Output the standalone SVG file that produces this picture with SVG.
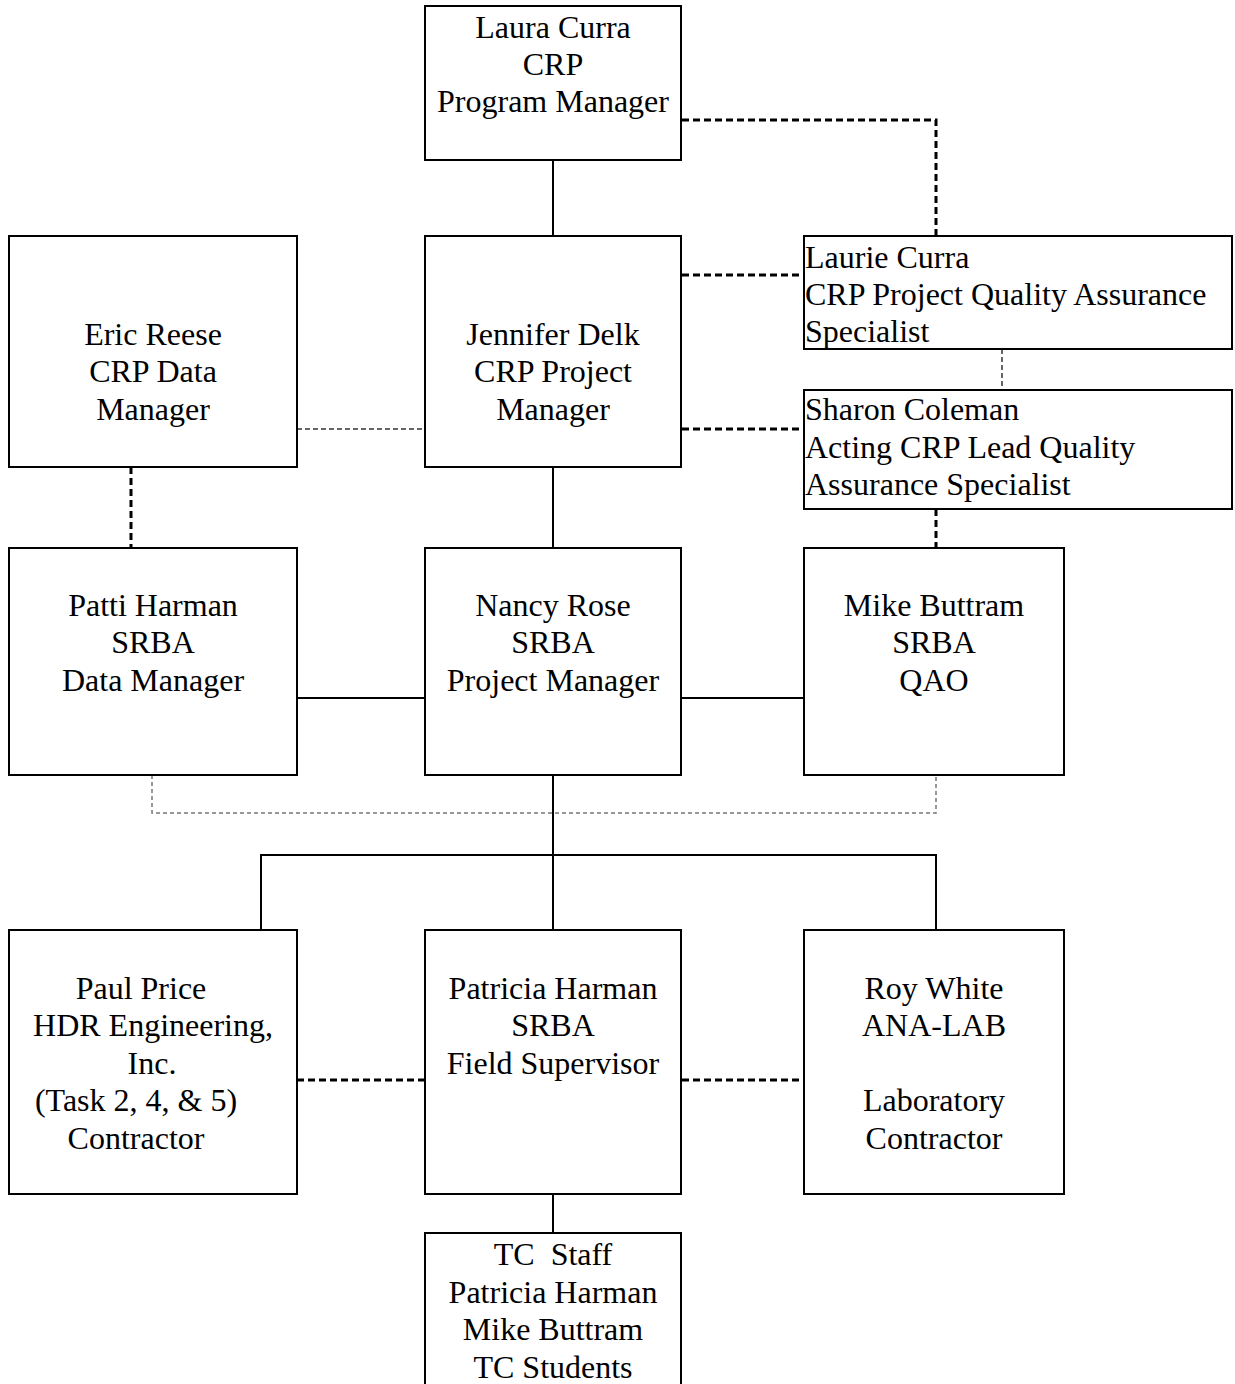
<svg xmlns="http://www.w3.org/2000/svg" width="1235" height="1384" viewBox="0 0 1235 1384">
<style>
.box{fill:#fff;stroke:#000;stroke-width:2}
text{font-family:"Liberation Serif","Times New Roman",serif;font-size:32px;fill:#000}
.c{text-anchor:middle}
.solid{stroke:#000;stroke-width:2;fill:none}
.thick{stroke:#000;stroke-width:3;stroke-dasharray:7 4;fill:none}
.thin{stroke:#333;stroke-width:1.5;stroke-dasharray:5 3;fill:none}
.gray{stroke:#777;stroke-width:1.5;stroke-dasharray:4 3;fill:none}
</style>
<rect width="1235" height="1384" fill="#fff"/>
<g id="connectors">
<line class="solid" x1="553" y1="160" x2="553" y2="236"/>
<polyline class="thick" points="682,120 936,120 936,236"/>
<line class="thick" x1="682" y1="275" x2="804" y2="275"/>
<line class="thick" x1="682" y1="429" x2="804" y2="429"/>
<line class="thin" x1="297" y1="429" x2="425" y2="429"/>
<line class="thin" x1="1002" y1="349" x2="1002" y2="390"/>
<line class="thick" x1="131" y1="467" x2="131" y2="548"/>
<line class="thick" x1="936" y1="509" x2="936" y2="548"/>
<line class="solid" x1="553" y1="467" x2="553" y2="548"/>
<line class="solid" x1="297" y1="698" x2="425" y2="698"/>
<line class="solid" x1="682" y1="698" x2="804" y2="698"/>
<line class="solid" x1="553" y1="775" x2="553" y2="855"/>
<polyline class="solid" points="261,930 261,855 936,855 936,930"/>
<line class="solid" x1="553" y1="855" x2="553" y2="930"/>
<polyline class="gray" points="152,775 152,813 936,813 936,775"/>
<line class="thick" x1="297" y1="1080" x2="425" y2="1080"/>
<line class="thick" x1="682" y1="1080" x2="804" y2="1080"/>
<line class="solid" x1="553" y1="1194" x2="553" y2="1233"/>
</g>
<g id="laura-curra">
<rect class="box" x="425" y="6" width="256" height="154"/>
<text class="c" x="553" y="38">Laura Curra</text>
<text class="c" x="553" y="75">CRP</text>
<text class="c" x="553" y="112">Program Manager</text>
</g>
<g id="eric-reese">
<rect class="box" x="9" y="236" width="288" height="231"/>
<text class="c" x="153" y="345">Eric Reese</text>
<text class="c" x="153" y="382">CRP Data</text>
<text class="c" x="153" y="420">Manager</text>
</g>
<g id="jennifer-delk">
<rect class="box" x="425" y="236" width="256" height="231"/>
<text class="c" x="553" y="345">Jennifer Delk</text>
<text class="c" x="553" y="382">CRP Project</text>
<text class="c" x="553" y="420">Manager</text>
</g>
<g id="laurie-curra">
<rect class="box" x="804" y="236" width="428" height="113"/>
<text x="805" y="268">Laurie Curra</text>
<text x="805" y="305">CRP Project Quality Assurance</text>
<text x="805" y="342">Specialist</text>
</g>
<g id="sharon-coleman">
<rect class="box" x="804" y="390" width="428" height="119"/>
<text x="805" y="420">Sharon Coleman</text>
<text x="805" y="458">Acting CRP Lead Quality</text>
<text x="805" y="495">Assurance Specialist</text>
</g>
<g id="patti-harman">
<rect class="box" x="9" y="548" width="288" height="227"/>
<text class="c" x="153" y="616">Patti Harman</text>
<text class="c" x="153" y="653">SRBA</text>
<text class="c" x="153" y="691">Data Manager</text>
</g>
<g id="nancy-rose">
<rect class="box" x="425" y="548" width="256" height="227"/>
<text class="c" x="553" y="616">Nancy Rose</text>
<text class="c" x="553" y="653">SRBA</text>
<text class="c" x="553" y="691">Project Manager</text>
</g>
<g id="mike-buttram">
<rect class="box" x="804" y="548" width="260" height="227"/>
<text class="c" x="934" y="616">Mike Buttram</text>
<text class="c" x="934" y="653">SRBA</text>
<text class="c" x="934" y="691">QAO</text>
</g>
<g id="paul-price">
<rect class="box" x="9" y="930" width="288" height="264"/>
<text class="c" x="141" y="999">Paul Price</text>
<text class="c" x="153" y="1036">HDR Engineering,</text>
<text class="c" x="152" y="1074">Inc.</text>
<text class="c" x="136" y="1111">(Task 2, 4, &amp; 5)</text>
<text class="c" x="136" y="1149">Contractor</text>
</g>
<g id="patricia-harman">
<rect class="box" x="425" y="930" width="256" height="264"/>
<text class="c" x="553" y="999">Patricia Harman</text>
<text class="c" x="553" y="1036">SRBA</text>
<text class="c" x="553" y="1074">Field Supervisor</text>
</g>
<g id="roy-white">
<rect class="box" x="804" y="930" width="260" height="264"/>
<text class="c" x="934" y="999">Roy White</text>
<text class="c" x="934" y="1036">ANA-LAB</text>
<text class="c" x="934" y="1111">Laboratory</text>
<text class="c" x="934" y="1149">Contractor</text>
</g>
<g id="tc-staff">
<rect class="box" x="425" y="1233" width="256" height="170"/>
<text class="c" x="553" y="1265" xml:space="preserve">TC  Staff</text>
<text class="c" x="553" y="1303">Patricia Harman</text>
<text class="c" x="553" y="1340">Mike Buttram</text>
<text class="c" x="553" y="1378">TC Students</text>
</g>
</svg>
